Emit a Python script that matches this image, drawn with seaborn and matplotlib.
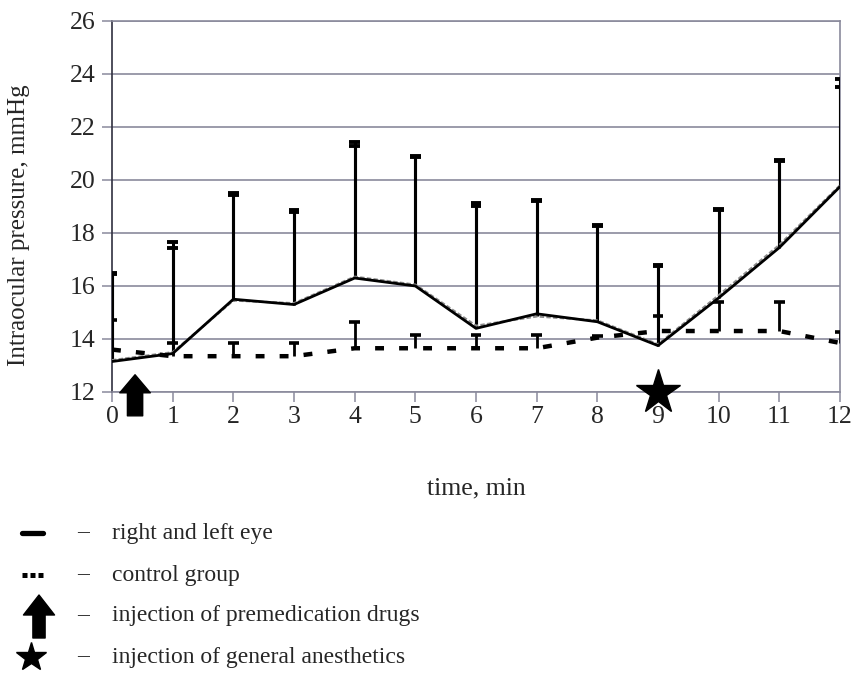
#!/usr/bin/env python3
"""Intraocular pressure over time: eyes vs control group."""

import matplotlib
matplotlib.use("Agg")
import matplotlib.pyplot as plt
from matplotlib.lines import Line2D
import numpy as np
import pandas as pd
import seaborn as sns

# --- Data ---
TIME = list(range(13))
EYE_RIGHT = [13.15, 13.45, 15.5, 15.3, 16.3, 16.0, 14.4, 14.95, 14.65, 13.75, 15.55, 17.45, 19.75]
EYE_LEFT = [13.2, 13.5, 15.45, 15.35, 16.35, 16.05, 14.5, 14.85, 14.7, 13.8, 15.65, 17.55, 19.8]
EYE_RIGHT_UP = [16.5, 17.65, 19.5, 18.85, 21.45, 20.9, 19.15, 19.25, 18.3, 16.8, 18.9, 20.75, 23.8]
EYE_LEFT_UP = [16.45, 17.45, 19.45, 18.8, 21.3, 20.85, 19.0, 19.2, 18.25, 16.75, 18.85, 20.7, 23.5]
CONTROL = [13.6, 13.35, 13.35, 13.35, 13.65, 13.65, 13.65, 13.65, 14.05, 14.3, 14.3, 14.3, 13.85]
CONTROL_UP = [14.7, 13.85, 13.85, 13.85, 14.65, 14.15, 14.15, 14.15, 14.1, 14.85, 15.4, 15.4, 14.25]

PREMED_TIME = 0.38
ANESTH_TIME = 9

LEGEND_LABELS = [
    "right and left eye",
    "control group",
    "injection of premedication drugs",
    "injection of general anesthetics",
]

GRID = "#8a8a9c"
SERIF = ["Liberation Serif", "DejaVu Serif"]


def upper_bars(ax, x, mean, upper, cap=0.09, lw=2.2):
    """One-sided (upper) error bars with a flat cap."""
    x = np.asarray(x, dtype=float)
    ax.vlines(x, mean, upper, color="black", lw=lw, zorder=3)
    ax.hlines(upper, x - cap, x + cap, color="black", lw=lw + 0.6, zorder=3)


def main():
    sns.set_style("white")
    plt.rcParams["font.family"] = SERIF

    fig = plt.figure(figsize=(8.53, 6.75), dpi=100)
    ax = fig.add_axes([0.1313, 0.4193, 0.8535, 0.5496])

    df = pd.DataFrame({"time": TIME, "right": EYE_RIGHT, "left": EYE_LEFT, "control": CONTROL})

    # error bars
    upper_bars(ax, TIME, EYE_RIGHT, EYE_RIGHT_UP)
    upper_bars(ax, TIME, EYE_LEFT, EYE_LEFT_UP)
    upper_bars(ax, TIME, CONTROL, CONTROL_UP, lw=2.0)

    # mean lines
    sns.lineplot(data=df, x="time", y="left", ax=ax, color="#8c8c8c", lw=1.6,
                 linestyle=(0, (2, 1)), zorder=4)
    sns.lineplot(data=df, x="time", y="right", ax=ax, color="black", lw=2.0, zorder=5)
    sns.lineplot(data=df, x="time", y="control", ax=ax, color="black", lw=3.2,
                 linestyle=(0, (2.0, 3.4)), dash_capstyle="butt", zorder=5)

    ax.set_xlim(0, 12)
    ax.set_ylim(12, 26)
    ax.set_xticks(range(0, 13))
    ax.set_yticks(range(12, 27, 2))
    ax.grid(axis="y", color=GRID, lw=1.2)
    ax.set_axisbelow(True)
    for side in ["top", "right", "bottom"]:
        ax.spines[side].set_color(GRID)
        ax.spines[side].set_linewidth(1.2)
    ax.spines["left"].set_color("#303040")
    ax.spines["left"].set_linewidth(1.2)
    ax.tick_params(axis="both", direction="out", length=7, width=1.1, color=GRID,
                   labelsize=18.5, left=True, bottom=True)
    ax.tick_params(axis="x", pad=3)
    ax.tick_params(axis="y", pad=5)

    ax.set_xlabel("time, min", fontsize=18.5)
    ax.set_ylabel("Intraocular pressure, mmHg", fontsize=18)
    ax.xaxis.set_label_coords(0.5, -0.23)
    ax.yaxis.set_label_coords(-0.113, 0.45)

    # event markers
    ax.annotate("", xy=(PREMED_TIME, 12.65), xytext=(PREMED_TIME, 11.1),
                arrowprops=dict(arrowstyle="simple,head_length=0.65,head_width=1.1,tail_width=0.55",
                                color="black", mutation_scale=20, shrinkA=0, shrinkB=0),
                annotation_clip=False, zorder=6)
    ax.plot([ANESTH_TIME], [12.0], marker="*", ms=33, color="black", clip_on=False, zorder=6)

    # legend block under the chart
    rows_y = [142, 100, 59, 18]
    fig.add_artist(Line2D([22, 43], [rows_y[0]] * 2, transform=None, color="black", lw=3.8))
    fig.add_artist(Line2D([22, 43], [rows_y[1]] * 2, transform=None, color="black", lw=3.6,
                          linestyle=(0, (1.0, 0.6)), dash_capstyle="butt"))
    ax.annotate("", xy=(39, 80), xytext=(39, 37), xycoords="figure pixels",
                textcoords="figure pixels",
                arrowprops=dict(arrowstyle="simple,head_length=0.9,head_width=1.4,tail_width=0.55",
                                color="black", mutation_scale=16, shrinkA=0, shrinkB=0),
                annotation_clip=False)
    fig.add_artist(Line2D([31], [rows_y[3]], transform=None, marker="*", ms=22, color="black"))
    for y, label in zip(rows_y, LEGEND_LABELS):
        fig.text(77, y, "–", transform=None, fontsize=17, va="center", ha="left")
        fig.text(112, y, label, transform=None, fontsize=17, va="center", ha="left")

    fig.savefig("out.png", dpi=100)
    plt.close(fig)


if __name__ == "__main__":
    main()
